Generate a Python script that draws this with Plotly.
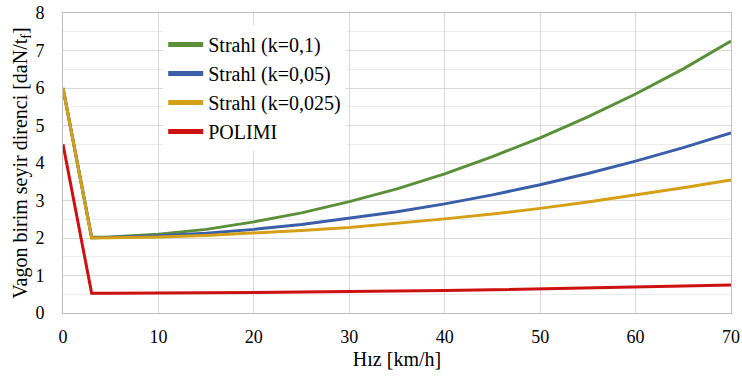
import plotly.graph_objects as go

speed = [0, 3, 5, 10, 15, 20, 25, 30, 35, 40, 45, 50, 55, 60, 65, 70]
strahl_01 = [6.0, 2.02, 2.03, 2.10, 2.23, 2.43, 2.67, 2.97, 3.31, 3.71, 4.17, 4.67, 5.23, 5.84, 6.51, 7.25]
strahl_005 = [6.0, 2.01, 2.02, 2.06, 2.13, 2.23, 2.36, 2.52, 2.70, 2.91, 3.15, 3.42, 3.72, 4.05, 4.41, 4.80]
strahl_0025 = [6.0, 2.00, 2.01, 2.03, 2.07, 2.13, 2.20, 2.28, 2.39, 2.51, 2.64, 2.79, 2.96, 3.14, 3.34, 3.55]
polimi = [4.5, 0.53, 0.53, 0.53, 0.54, 0.55, 0.56, 0.57, 0.585, 0.60, 0.62, 0.64, 0.665, 0.69, 0.72, 0.75]

names = ["Strahl (k=0,1)", "Strahl (k=0,05)", "Strahl (k=0,025)", "POLIMI"]
colors = ["#5b8f3a", "#3a5ea8", "#d4a017", "#cc1111"]
series = [strahl_01, strahl_005, strahl_0025, polimi]

fig = go.Figure()
for n, c, s in zip(names, colors, series):
    fig.add_trace(go.Scatter(x=speed, y=s, name=n, mode="lines",
                             line=dict(color=c, width=3)))

font = "Liberation Serif"
fig.update_layout(
    width=742, height=376,
    margin=dict(l=63, r=11, t=13, b=63),
    paper_bgcolor="white", plot_bgcolor="white",
    font=dict(family=font, size=18, color="#000000"),
    showlegend=True,
    legend=dict(x=0.15, y=0.96, xanchor="left", yanchor="top",
                bgcolor="white", font=dict(family=font, size=20),
                itemwidth=35, tracegroupgap=0, itemsizing="constant"),
    xaxis=dict(range=[0, 70], dtick=10, tick0=0, showgrid=True,
               gridcolor="#d9d9d9", gridwidth=1, showline=True,
               linecolor="#bfbfbf", linewidth=1, mirror=True,
               zeroline=False, ticks="", ticklabelstandoff=7,
               automargin=False, tickfont=dict(family=font, size=18),
               title=dict(text="Hız [km/h]", standoff=6,
                          font=dict(family=font, size=20))),
    yaxis=dict(range=[0, 8], dtick=1, tick0=0, showgrid=True,
               gridcolor="#d9d9d9", gridwidth=1, showline=True,
               linecolor="#bfbfbf", linewidth=1, mirror=True,
               zeroline=False, ticks="", ticklabelstandoff=14,
               automargin=False, tickfont=dict(family=font, size=18),
               minor=dict(dtick=0.5, showgrid=True, gridcolor="#ececec", gridwidth=1),
               title=dict(text="Vagon birim seyir direnci [daN/t<sub>f</sub>]",
                          standoff=2, font=dict(family=font, size=20))),
)
fig.write_html("out.html")
